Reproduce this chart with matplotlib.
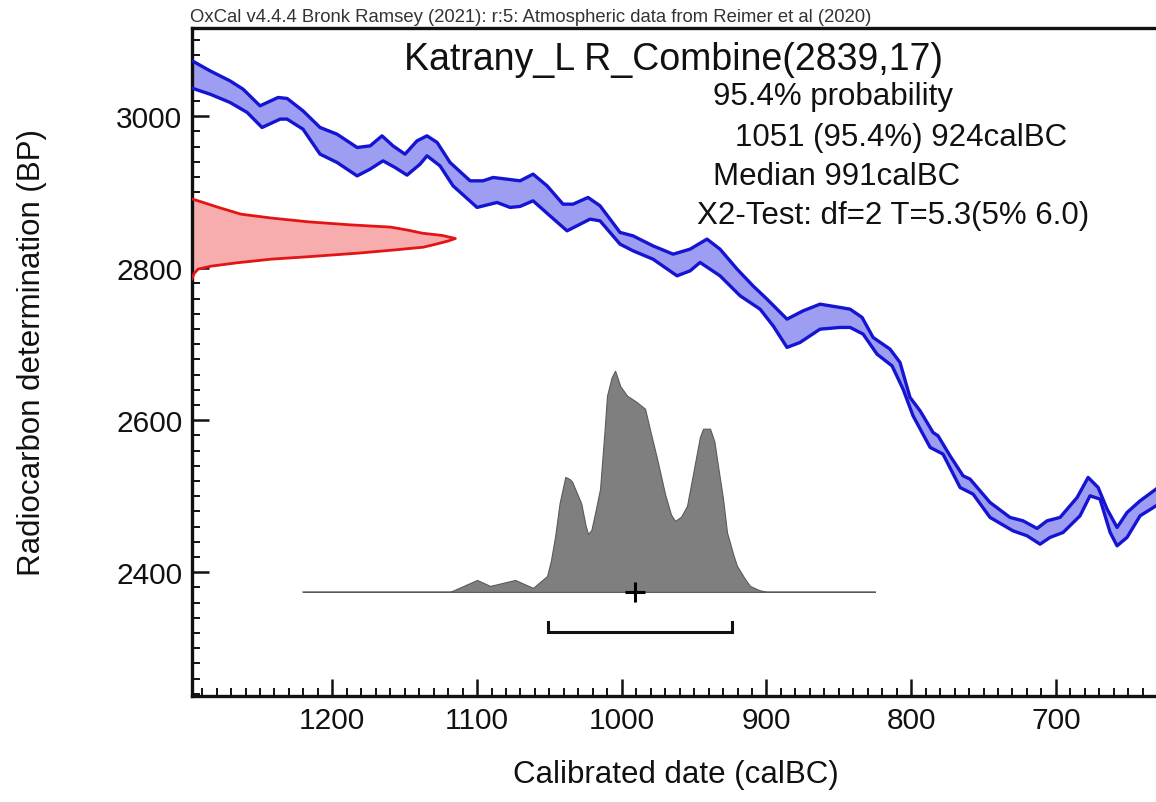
import matplotlib
matplotlib.use("Agg")
import matplotlib.pyplot as plt
from matplotlib.ticker import MultipleLocator

plt.rcParams['font.family'] = ['Liberation Sans', 'DejaVu Sans']

# ---------------- data ----------------
# IntCal20 calibration curve band (upper / lower edges), cal BC vs BP
curve_upper_bc = [1297, 1294.9, 1284.5, 1270.7, 1261.7, 1250, 1237.5, 1231.3, 1220.3, 1208.5,
                  1196.8, 1182.9, 1173.9, 1165.7, 1158.1, 1149.8, 1141.5, 1134.6, 1127.6, 1118.7,
                  1104.8, 1095.9, 1088.9, 1079.3, 1070.3, 1061.3, 1051.6, 1040.6, 1033.7, 1023.3,
                  1015, 1001.2, 992.2, 978.4, 964.5, 952.8, 941.1, 932.1, 920.3, 909.3,
                  899.6, 885.8, 874.7, 863, 849.1, 842.2, 833.9, 826.3, 814.6, 807.7,
                  800.8, 793.8, 784.9, 781.4, 773.1, 764.1, 759.3, 745.5, 731.7, 722.7,
                  713, 706.1, 697.1, 685.3, 677.7, 670.8, 664.6, 657.7, 650.8, 641.8, 630.8]
curve_upper_bp = [3073, 3070.7, 3059.6, 3046.4, 3035.5, 3013.6, 3024.6, 3023.3, 3007, 2985.1,
                  2976.3, 2958.8, 2960.9, 2974.1, 2960.9, 2950, 2967.5, 2974.1, 2965.4, 2939.1,
                  2914.9, 2914.9, 2919.3, 2917.1, 2914.9, 2923.7, 2908.3, 2884.2, 2884.2, 2893,
                  2882, 2847, 2842.5, 2829.3, 2818.4, 2825, 2838.2, 2825, 2798.7, 2776.7,
                  2759.2, 2732.9, 2743.8, 2752.6, 2748.3, 2746, 2735.1, 2708.8, 2693.4, 2675.9,
                  2629.9, 2612.2, 2583.8, 2579.3, 2553, 2526.7, 2522.4, 2491.7, 2472, 2467.5,
                  2457.5, 2467.5, 2472, 2498.3, 2524.6, 2511.4, 2482.9, 2458.8, 2478.5, 2493.8, 2509.2]
curve_lower_bc = [1297, 1294.9, 1284.5, 1270.7, 1258.9, 1248.6, 1236.1, 1231.3, 1220.3, 1208.5,
                  1196.8, 1182.9, 1173.9, 1165, 1156.7, 1148.4, 1139.4, 1134.6, 1125.6, 1116.6,
                  1100, 1086.2, 1077.2, 1070.3, 1061.3, 1049.6, 1037.8, 1021.9, 1015, 1001.2,
                  992.2, 978.4, 961.8, 952.8, 945.9, 932.1, 918.2, 904.4, 895.4, 885.8,
                  876.8, 863, 849.1, 842.2, 833.2, 823.6, 813.2, 805.6, 798.7, 786.9,
                  778, 766.2, 757.2, 745.5, 729.6, 719.9, 710.9, 704, 695, 683.3,
                  676.4, 669.5, 662.5, 657.7, 650.8, 641.8, 630.8]
curve_lower_bp = [3037, 3035.5, 3028.9, 3018, 3004.9, 2985.1, 2996.1, 2996.1, 2982.9, 2950,
                  2939.1, 2921.4, 2930.3, 2941.2, 2932.5, 2922.4, 2936.8, 2947.8, 2934.6, 2908.3,
                  2879.9, 2886.4, 2879.9, 2881.2, 2888.6, 2868.8, 2849.1, 2864.5, 2862.2, 2831.6,
                  2822.8, 2811.8, 2789.9, 2796.4, 2807.5, 2789.9, 2763.6, 2746, 2724.1, 2695.7,
                  2702.2, 2719.7, 2722, 2722, 2713.2, 2686.8, 2671.4, 2640.8, 2605.7, 2564.1,
                  2555.3, 2511.4, 2502.6, 2472, 2454.3, 2447.8, 2436.8, 2445.7, 2452.2, 2474.1,
                  2500.4, 2496.1, 2452.2, 2434.6, 2445.7, 2474.1, 2487.2]

# Radiocarbon measurement (BP) and relative likelihood
r14c_bp = [2891, 2888.6, 2880, 2871, 2866, 2861, 2857, 2854, 2850, 2846, 2843, 2839,
           2836, 2833, 2827.6, 2824, 2819.7, 2815, 2811.8, 2807, 2802.6, 2798.7, 2793, 2786]
r14c_p = [0, 0.023, 0.10, 0.186, 0.30, 0.44, 0.60, 0.754, 0.82, 0.874, 0.95, 1.0,
          0.975, 0.943, 0.879, 0.77, 0.629, 0.44, 0.30, 0.17, 0.072, 0.023, 0.008, 0]

# Calibrated posterior (cal BC) and relative probability
post_bc = [1220, 1130, 1118.7, 1110, 1100, 1091, 1073.7, 1061.3, 1051.6, 1049, 1046, 1043,
           1039, 1036, 1034.3, 1028, 1025, 1023.3, 1021, 1018, 1015, 1012, 1010.2, 1007,
           1004.6, 1001, 996.3, 990, 983.9, 980, 975.6, 970, 966, 963.2, 959, 954.9, 950,
           946, 943.8, 939, 936, 933.5, 930, 927.3, 923, 920.4, 915, 911.4, 905, 899.7, 825]
post_p = [0, 0, 0.0, 0.025, 0.054, 0.027, 0.054, 0.018, 0.072, 0.14, 0.253, 0.40,
          0.52, 0.51, 0.498, 0.40, 0.30, 0.262, 0.28, 0.37, 0.466, 0.72, 0.887, 0.97,
          1.0, 0.93, 0.887, 0.86, 0.828, 0.72, 0.602, 0.44, 0.35, 0.321, 0.34, 0.389, 0.56,
          0.70, 0.738, 0.738, 0.68, 0.57, 0.42, 0.27, 0.17, 0.118, 0.06, 0.027, 0.008, 0, 0]

range_from, range_to = 1051, 924
median_bc = 991

title = "Katrany_L R_Combine(2839,17)"
info_lines = ["95.4% probability", "1051 (95.4%) 924calBC", "Median 991calBC",
              "X2-Test: df=2 T=5.3(5% 6.0)"]
header = "OxCal v4.4.4 Bronk Ramsey (2021): r:5: Atmospheric data from Reimer et al (2020)"

x_ticks = [1200, 1100, 1000, 900, 800, 700]
y_ticks = [2400, 2600, 2800, 3000]

# ---------------- layout / style ----------------
W, H = 1156, 803
XLIM = (1297, 630.8)
YLIM = (2237, 3116)
RED_AMP = 182        # horizontal size of the measurement curve (years)
POST_BASE = 2374     # baseline of posterior (BP units)
POST_AMP = 291       # height of posterior peak (BP units)
BRACKET_Y = 2321
BRACKET_TOP = 2334

fig = plt.figure(figsize=(W / 100, H / 100), dpi=100)
ax = fig.add_axes([192 / W, (H - 697) / H, (W - 192) / W, (697 - 29) / H])
ax.set_xlim(*XLIM)
ax.set_ylim(*YLIM)

# calibration curve band
poly_x = curve_upper_bc + curve_lower_bc[::-1]
poly_y = curve_upper_bp + curve_lower_bp[::-1]
ax.fill(poly_x, poly_y, facecolor='#9d9df2', edgecolor='none', zorder=2)
ax.plot(curve_upper_bc, curve_upper_bp, color='#1414d2', lw=2.4, zorder=3,
        solid_joinstyle='round')
ax.plot(curve_lower_bc, curve_lower_bp, color='#1414d2', lw=2.4, zorder=3,
        solid_joinstyle='round')

# radiocarbon measurement on y axis
red_x = [XLIM[0] - RED_AMP * p for p in r14c_p]
ax.fill_betweenx(r14c_bp, XLIM[0], red_x, facecolor='#f7adad', edgecolor='none', zorder=2)
ax.plot(red_x, r14c_bp, color='#e31414', lw=2.0, zorder=3, solid_joinstyle='round')

# posterior distribution
post_y = [POST_BASE + POST_AMP * p for p in post_p]
ax.plot([post_bc[0], post_bc[-1]], [POST_BASE, POST_BASE], color='#a0a0a0', lw=1.3, zorder=2)
ax.fill_between(post_bc, POST_BASE, post_y, facecolor='#7f7f7f', edgecolor='#5a5a5a',
                lw=0.8, zorder=3)
ax.plot([median_bc], [POST_BASE], marker='+', color='black', markersize=15, mew=2.2, zorder=4)

# 95.4% range bracket
ax.plot([range_from, range_from, range_to, range_to],
        [BRACKET_TOP, BRACKET_Y, BRACKET_Y, BRACKET_TOP], color='#111111', lw=2.2,
        solid_joinstyle='miter', zorder=4)

# axes styling
for side in ['left', 'bottom', 'top']:
    ax.spines[side].set_linewidth(2.4)
    ax.spines[side].set_color('#111111')
ax.spines['right'].set_visible(False)

ax.set_xticks(x_ticks)
ax.set_yticks(y_ticks)
ax.xaxis.set_minor_locator(MultipleLocator(10))
ax.yaxis.set_minor_locator(MultipleLocator(20))
ax.tick_params(which='major', direction='in', length=12, width=1.8, labelsize=21.5,
               pad=7, colors='#111111', top=False, right=False)
ax.tick_params(which='minor', direction='in', length=6, width=1.4, colors='#111111',
               top=False, right=False)

ax.set_xlabel("Calibrated date (calBC)", fontsize=22.5, color='#111111')
ax.xaxis.label.set_va('center')
ax.xaxis.set_label_coords((676 - 192) / (W - 192), (697 - 775) / (697 - 29))
ax.set_ylabel("Radiocarbon determination (BP)", fontsize=22.5, color='#111111')
ax.yaxis.label.set_va('center')
ax.yaxis.set_label_coords((32 - 192) / (W - 192), (697 - 353) / (697 - 29))

# texts
def ax_pos(px, py):
    return (px - 192) / (W - 192), (697 - py) / (697 - 29)

tx, ty = ax_pos(674, 60)
ax.text(tx, ty, title, transform=ax.transAxes, ha='center', va='center',
        fontsize=27, color='#111111', zorder=5)
for (px, py), line in zip([(713, 97), (735, 138), (713, 177), (697, 216)], info_lines):
    x_, y_ = ax_pos(px, py)
    ax.text(x_, y_, line, transform=ax.transAxes, ha='left', va='center',
            fontsize=22.5, color='#111111', zorder=5)

fig.text(190 / W, 1 - 17 / H, header, ha='left', va='center', fontsize=13.3, color='#333333')

fig.savefig("out.png", dpi=100, facecolor='white')
